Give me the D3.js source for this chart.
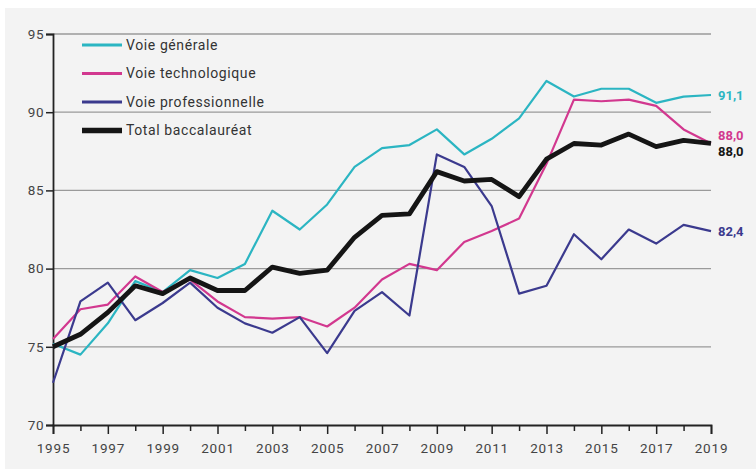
<!DOCTYPE html>
<html>
<head>
<meta charset="utf-8">
<script src="https://cdn.jsdelivr.net/npm/d3@7"></script>
<style>
  body { margin: 0; background: #fff; }
  svg { display: block; font-family: Roboto, "Noto Sans", sans-serif; }
</style>
</head>
<body>
<div id="chart"></div>
<script>
// data
const years = d3.range(1995, 2020);
const generale = [75.2, 74.5, 76.5, 79.2, 78.5, 79.9, 79.4, 80.3, 83.7, 82.5, 84.1, 86.5, 87.7, 87.9, 88.9, 87.3, 88.3, 89.6, 92.0, 91.0, 91.5, 91.5, 90.6, 91.0, 91.1];
const techno = [75.5, 77.4, 77.7, 79.5, 78.5, 79.3, 77.9, 76.9, 76.8, 76.9, 76.3, 77.5, 79.3, 80.3, 79.9, 81.7, 82.4, 83.2, 86.7, 90.8, 90.7, 90.8, 90.4, 88.9, 88.0];
const pro = [72.7, 77.9, 79.1, 76.7, 77.8, 79.1, 77.5, 76.5, 75.9, 76.9, 74.6, 77.3, 78.5, 77.0, 87.3, 86.5, 84.0, 78.4, 78.9, 82.2, 80.6, 82.5, 81.6, 82.8, 82.4];
const total = [75.0, 75.8, 77.2, 78.9, 78.4, 79.4, 78.6, 78.6, 80.1, 79.7, 79.9, 82.0, 83.4, 83.5, 86.2, 85.6, 85.7, 84.6, 87.0, 88.0, 87.9, 88.6, 87.8, 88.2, 88.0];
const yTicks = [70, 75, 80, 85, 90, 95];
const endLabels = ["91,1", "88,0", "82,4", "88,0"];

const series = [
    { name: "Voie générale", values: generale, color: "#2bb5c2", width: 2.2, labelDy: 0 },
    { name: "Voie technologique", values: techno, color: "#d2388f", width: 2.2, labelDy: -8.5 },
    { name: "Voie professionnelle", values: pro, color: "#3b3a8e", width: 2.2, labelDy: 0 },
    { name: "Total baccalauréat", values: total, color: "#151515", width: 4.8, labelDy: 7.5 }
];

const W = 756, H = 469;
const margin = { top: 34, right: 45, bottom: 44, left: 53 };
const width = W - margin.left - margin.right;
const height = H - margin.top - margin.bottom;

const svg = d3.select("#chart").append("svg")
    .attr("width", W)
    .attr("height", H);

// grey panel
svg.append("rect")
    .attr("x", 5).attr("y", 8)
    .attr("width", W - 5).attr("height", H - 8)
    .attr("fill", "#f3f3f3");

const g = svg.append("g").attr("transform", `translate(${margin.left},${margin.top})`);

const x = d3.scaleLinear().domain([1995, 2019]).range([0, width]);
const y = d3.scaleLinear().domain([70, 95]).range([height, 0]);

// gridlines
g.append("g")
    .selectAll("line")
    .data(yTicks.filter(d => d > 70))
    .join("line")
    .attr("x1", 0).attr("x2", width)
    .attr("y1", d => y(d)).attr("y2", d => y(d))
    .attr("stroke", "#9a9a9a")
    .attr("stroke-width", 1.3);

// y axis
const yAxis = g.append("g")
    .call(d3.axisLeft(y).tickValues(yTicks).tickSize(7).tickPadding(2));
yAxis.select(".domain").attr("stroke", "#222").attr("stroke-width", 1.8);
yAxis.selectAll(".tick line").attr("stroke", "#222").attr("stroke-width", 1.5);
yAxis.selectAll(".tick text")
    .attr("font-size", 13.5).attr("letter-spacing", 0.5)
    .attr("fill", "#444").attr("font-family", "Roboto, sans-serif");

// x axis: labels on odd years, short ticks on even years
const xAxis = g.append("g")
    .attr("transform", `translate(0,${height})`)
    .call(d3.axisBottom(x).tickValues(years).tickSize(9).tickPadding(9)
        .tickFormat(d => (d % 2 === 1 ? d : "")));
xAxis.select(".domain").attr("stroke", "#222").attr("stroke-width", 1.8);
xAxis.selectAll(".tick line")
    .attr("stroke", "#222").attr("stroke-width", 1.5)
    .attr("y2", d => (d % 2 === 1 ? 9 : 6));
xAxis.selectAll(".tick text")
    .attr("font-size", 13.5).attr("letter-spacing", 0.8)
    .attr("fill", "#444").attr("font-family", "Roboto, sans-serif");

// lines
const line = d3.line()
    .x((d, i) => x(years[i]))
    .y(d => y(d));

series.forEach(s => {
    g.append("path")
        .datum(s.values)
        .attr("fill", "none")
        .attr("stroke", s.color)
        .attr("stroke-width", s.width)
        .attr("stroke-linejoin", "round")
        .attr("d", line);
});

// end labels
series.forEach((s, i) => {
    const last = s.values[s.values.length - 1];
    g.append("text")
        .attr("x", width + 7)
        .attr("y", y(last) + s.labelDy)
        .attr("dy", "0.35em")
        .attr("font-size", 13)
        .attr("font-weight", "bold")
        .attr("fill", s.color)
        .text(endLabels[i]);
});

// legend
const legend = g.append("g").attr("transform", "translate(29,11)");
series.forEach((s, i) => {
    const row = legend.append("g").attr("transform", `translate(0,${i * 28.5})`);
    row.append("line")
        .attr("x1", 0).attr("x2", 40)
        .attr("stroke", s.color)
        .attr("stroke-width", s.width + 0.8);
    row.append("text")
        .attr("x", 44)
        .attr("dy", "0.35em")
        .attr("font-size", 14)
        .attr("letter-spacing", 0.6)
        .attr("fill", "#333")
        .text(s.name);
});
</script>
</body>
</html>
